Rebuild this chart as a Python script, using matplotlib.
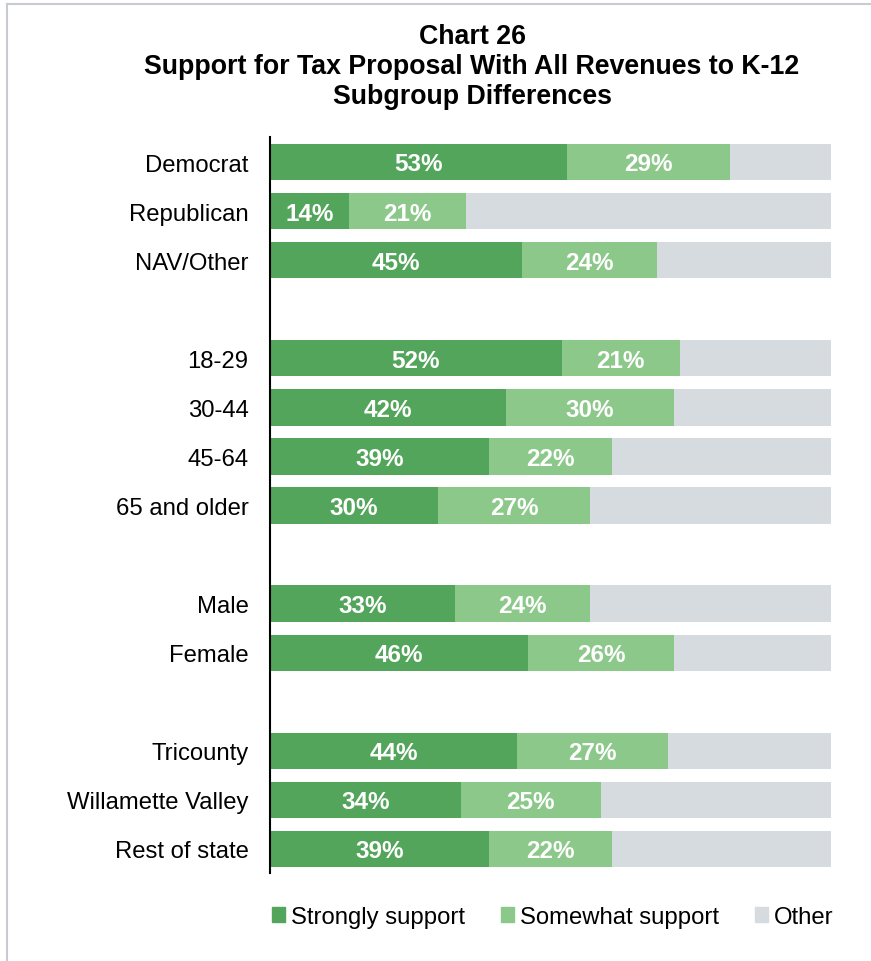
import matplotlib
matplotlib.use("Agg")
import matplotlib.pyplot as plt
from matplotlib.lines import Line2D
from matplotlib.patches import Patch

plt.rcParams["font.family"] = ["Liberation Sans", "DejaVu Sans"]

# subgroups, None marks a blank spacer row between groups
groups = ["Democrat", "Republican", "NAV/Other", None,
          "18-29", "30-44", "45-64", "65 and older", None,
          "Male", "Female", None,
          "Tricounty", "Willamette Valley", "Rest of state"]
strongly = [53, 14, 45, None, 52, 42, 39, 30, None, 33, 46, None, 44, 34, 39]
somewhat = [29, 21, 24, None, 21, 30, 22, 27, None, 24, 26, None, 27, 25, 22]

c_strong = "#52a55a"
c_some = "#8cc88a"
c_other = "#d6dbdf"

fig = plt.figure(figsize=(8.71, 9.62), dpi=100)
W, H = 871, 962
ax = fig.add_axes([270 / W, 1 - 874.5 / H, (831 - 270) / W, (874.5 - 138.5) / H])

ys, labels = [], []
for i, (g, s, m) in enumerate(zip(groups, strongly, somewhat)):
    if g is None:
        continue
    other = 100 - s - m
    ax.barh(i, s, height=0.74, color=c_strong, edgecolor="none")
    ax.barh(i, m, left=s, height=0.74, color=c_some, edgecolor="none")
    ax.barh(i, other, left=s + m, height=0.74, color=c_other, edgecolor="none")
    # nudge labels a touch down so digits sit centred in the bar
    ax.text(s / 2, i + 0.04, f"{s}%", ha="center", va="center", color="white",
            fontsize=17.5, fontweight="bold")
    ax.text(s + m / 2, i + 0.04, f"{m}%", ha="center", va="center", color="white",
            fontsize=17.5, fontweight="bold")
    ys.append(i)
    labels.append(g)

ax.set_xlim(0, 100)
ax.set_ylim(len(groups) - 0.5, -0.5)
ax.set_yticks(ys)
ax.set_yticklabels(labels, fontsize=17.2)
ax.tick_params(axis="y", length=0, pad=15.5)
ax.set_xticks([])
for side in ["top", "right", "bottom"]:
    ax.spines[side].set_visible(False)
ax.spines["left"].set_linewidth(1.5)
ax.spines["left"].set_color("black")

title_lines = ["Chart 26",
               "Support for Tax Proposal With All Revenues to K-12",
               "Subgroup Differences"]
for k, line in enumerate(title_lines):
    fig.text(472 / W, 1 - (36.5 + 30 * k) / H, line, ha="center", va="center",
             fontsize=19.3, fontweight="bold")

handles = [Patch(color=c_strong), Patch(color=c_some), Patch(color=c_other)]
fig.legend(handles, ["Strongly support", "Somewhat support", "Other"],
           loc="center", bbox_to_anchor=(553 / W, 1 - 918 / H), ncol=3,
           frameon=False, fontsize=17.2, handlelength=0.55, handleheight=0.55,
           handletextpad=0.25, columnspacing=1.5)

# thin frame lines along the top and left edges
fig.add_artist(Line2D([7 / W, 1], [1 - 5 / H, 1 - 5 / H], color="#c8ccd0", lw=1.5))
fig.add_artist(Line2D([7 / W, 7 / W], [0, 1 - 5 / H], color="#c8ccd0", lw=1.5))

fig.savefig("out.png", dpi=100)
